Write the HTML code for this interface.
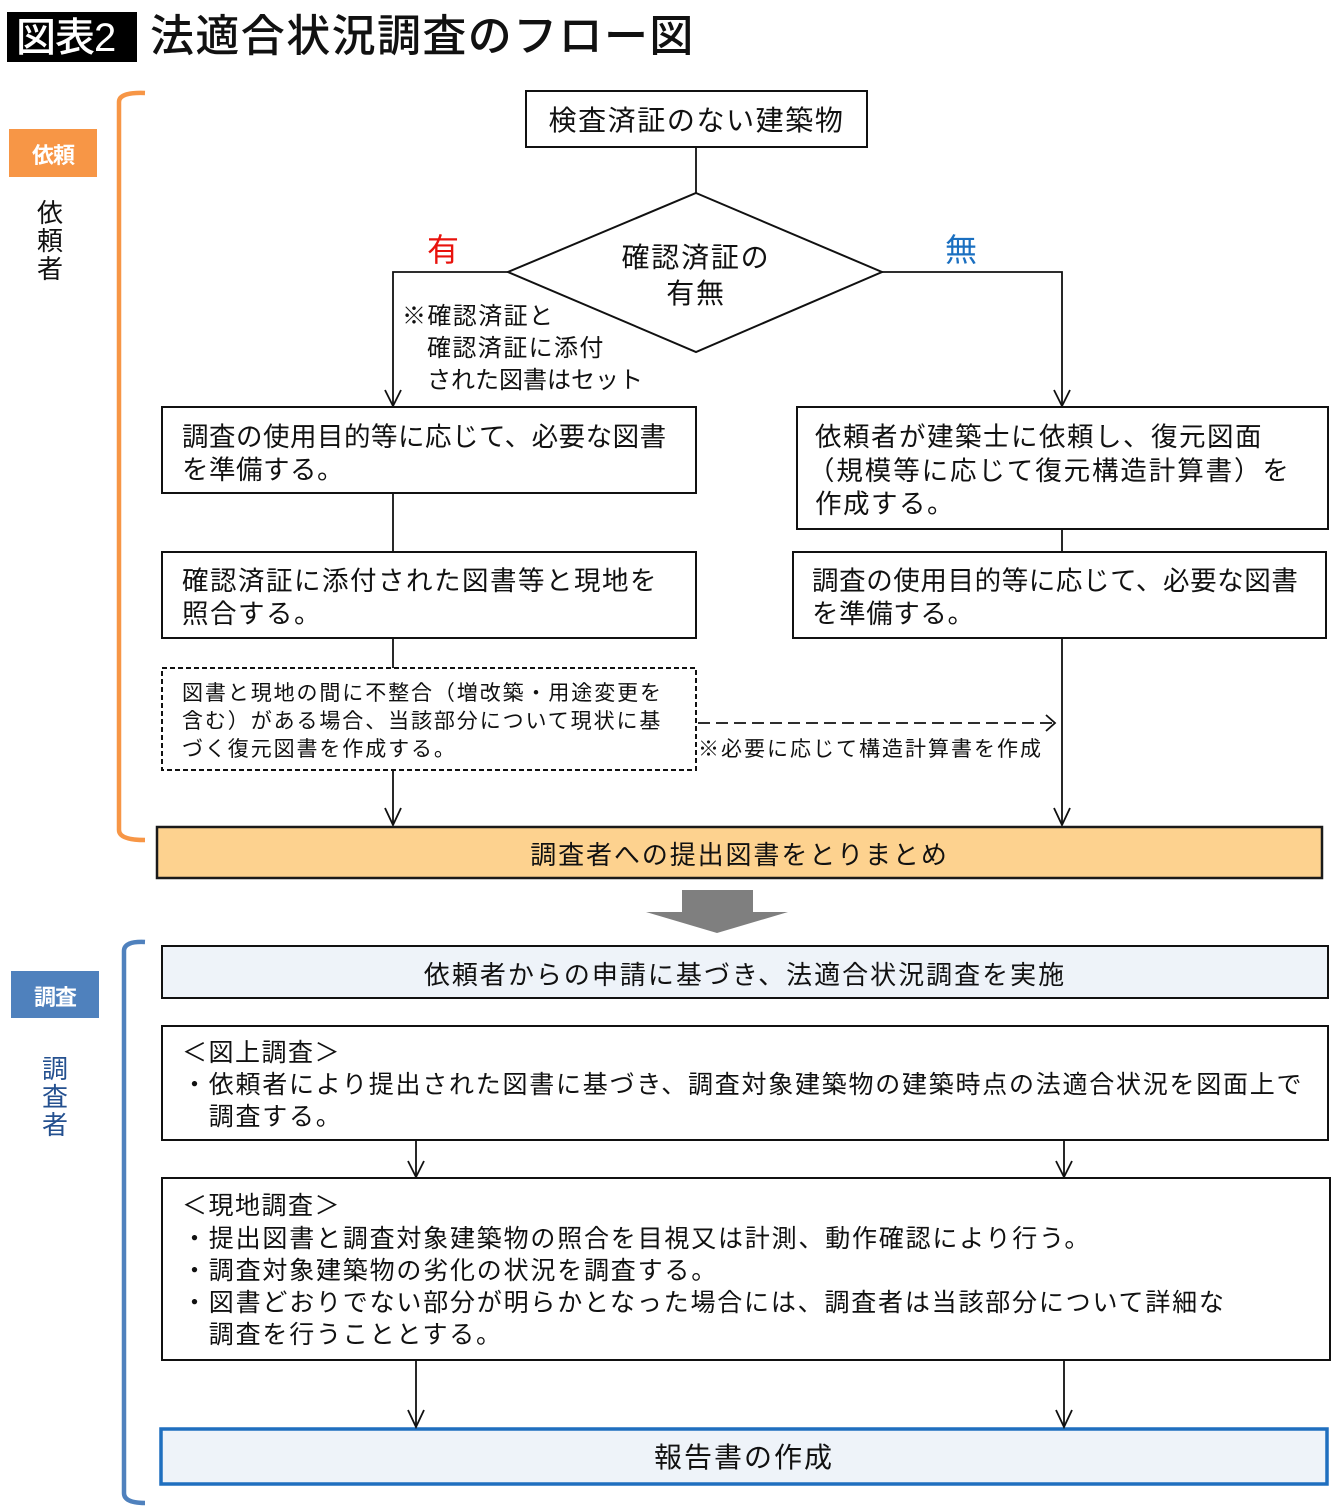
<!DOCTYPE html>
<html><head><meta charset="utf-8">
<style>
html,body{margin:0;padding:0;background:#fff;}
body{width:1340px;height:1508px;position:relative;overflow:hidden;font-family:"Liberation Sans","Noto Sans CJK JP",sans-serif;color:#111;}
.t{position:absolute;white-space:nowrap;line-height:1;margin-top:3px;}
svg{position:absolute;left:0;top:0;}
</style></head><body>
<svg width="1340" height="1508" viewBox="0 0 1340 1508">
  <!-- title box -->
  <rect x="7" y="12" width="130" height="50" fill="#000"/>
  <!-- left labels -->
  <rect x="9" y="129" width="88" height="48" fill="#f79646"/>
  <rect x="11" y="971" width="88" height="47" fill="#4f81bd"/>
  <!-- brackets -->
  <path d="M145,93 Q119,92 119,102 L119,830 Q119,840 145,840" fill="none" stroke="#f79646" stroke-width="4.5"/>
  <path d="M145,942 Q124,941 124,951 L124,1493 Q124,1503 145,1503" fill="none" stroke="#4f81bd" stroke-width="4.5"/>
  <g fill="#fff" stroke="#111" stroke-width="2">
    <rect x="526" y="91" width="341" height="56"/>
    <polygon points="696,193 882,272 696,352 508,272"/>
    <rect x="162" y="407" width="534" height="86"/>
    <rect x="162" y="552" width="534" height="86"/>
    <rect x="797" y="407" width="531" height="122"/>
    <rect x="793" y="552" width="533" height="86"/>
  </g>
  <rect x="162" y="668" width="534" height="102" fill="#fff" stroke="#111" stroke-width="2" stroke-dasharray="5,3"/>
  <g fill="none" stroke="#111" stroke-width="1.8">
    <line x1="696" y1="147" x2="696" y2="193"/>
    <polyline points="508,272 393,272 393,406"/>
    <polyline points="385,390 393,406 401,390"/>
    <polyline points="882,272 1062,272 1062,406"/>
    <polyline points="1054,390 1062,406 1070,390"/>
    <line x1="393" y1="493" x2="393" y2="552"/>
    <line x1="1062" y1="529" x2="1062" y2="552"/>
    <line x1="393" y1="638" x2="393" y2="668"/>
    <line x1="393" y1="770" x2="393" y2="825"/>
    <polyline points="385,808 393,825 401,808"/>
    <line x1="1062" y1="638" x2="1062" y2="825"/>
    <polyline points="1054,808 1062,825 1070,808"/>
    <line x1="698" y1="723" x2="1054" y2="723" stroke-dasharray="12,6"/>
    <polyline points="1046,715 1055,723 1046,731"/>
  </g>
  <!-- orange bar -->
  <rect x="157" y="827" width="1165" height="51" fill="#fdd28f" stroke="#1a1a1a" stroke-width="2.5"/>
  <!-- gray arrow -->
  <polygon points="682,890 753,890 753,912 788,912 717,933 646,912 682,912" fill="#7f7f7f"/>
  <!-- lower section -->
  <rect x="162" y="946" width="1166" height="52" fill="#eef3f9" stroke="#111" stroke-width="2"/>
  <rect x="162" y="1026" width="1166" height="114" fill="#fff" stroke="#111" stroke-width="2"/>
  <rect x="162" y="1178" width="1168" height="182" fill="#fff" stroke="#111" stroke-width="2"/>
  <rect x="161" y="1429" width="1166" height="55" fill="#eef3f9" stroke="#1f6fbf" stroke-width="3.5"/>
  <g fill="none" stroke="#111" stroke-width="1.8">
    <line x1="416" y1="1140" x2="416" y2="1177"/>
    <polyline points="408,1161 416,1177 424,1161"/>
    <line x1="1064" y1="1140" x2="1064" y2="1177"/>
    <polyline points="1056,1161 1064,1177 1072,1161"/>
    <line x1="416" y1="1360" x2="416" y2="1427"/>
    <polyline points="408,1410 416,1427 424,1410"/>
    <line x1="1064" y1="1360" x2="1064" y2="1427"/>
    <polyline points="1056,1410 1064,1427 1072,1410"/>
  </g>
</svg>

<!-- title -->
<div class="t" style="left:16px;top:15px;font-size:40px;color:#fff;letter-spacing:-1px;font-weight:500;">図表2</div>
<div class="t" style="left:150px;top:12px;font-size:44px;letter-spacing:1.4px;color:#111;font-weight:500;">法適合状況調査のフロー図</div>

<!-- left labels -->
<div class="t" style="left:9px;top:142px;width:88px;text-align:center;font-size:22px;font-weight:bold;color:#fff;letter-spacing:-1px;">依頼</div>
<div class="t" style="left:37px;top:196px;font-size:26px;line-height:28px;white-space:normal;width:28px;">依<br>頼<br>者</div>
<div class="t" style="left:11px;top:984px;width:88px;text-align:center;font-size:22px;font-weight:bold;color:#fff;letter-spacing:-1px;">調査</div>
<div class="t" style="left:42px;top:1052px;font-size:26px;line-height:28px;white-space:normal;width:28px;color:#24508f;">調<br>査<br>者</div>

<!-- top flow -->
<div class="t" style="left:526px;top:104px;width:341px;text-align:center;font-size:28px;letter-spacing:1.6px;">検査済証のない建築物</div>
<div class="t" style="left:508px;top:241px;width:376px;text-align:center;font-size:28px;letter-spacing:1.8px;">確認済証の</div>
<div class="t" style="left:508px;top:277px;width:376px;text-align:center;font-size:28px;letter-spacing:1.8px;">有無</div>
<div class="t" style="left:427px;top:231px;font-size:32px;color:#e8120c;">有</div>
<div class="t" style="left:945px;top:231px;font-size:32px;color:#1a6fc0;">無</div>
<div class="t" style="left:402px;top:302px;font-size:24px;letter-spacing:1.4px;">※確認済証と</div>
<div class="t" style="left:427px;top:334px;font-size:24px;letter-spacing:1.4px;">確認済証に添付</div>
<div class="t" style="left:427px;top:366px;font-size:24px;letter-spacing:0px;">された図書はセット</div>

<div class="t" style="left:182px;top:421px;font-size:26.5px;letter-spacing:0.5px;">調査の使用目的等に応じて、必要な図書</div>
<div class="t" style="left:182px;top:454px;font-size:26.5px;letter-spacing:0.5px;">を準備する。</div>
<div class="t" style="left:182px;top:565px;font-size:26.5px;letter-spacing:1.5px;">確認済証に添付された図書等と現地を</div>
<div class="t" style="left:182px;top:598px;font-size:26.5px;letter-spacing:1.5px;">照合する。</div>

<div class="t" style="left:182px;top:680px;font-size:21px;letter-spacing:1.9px;">図書と現地の間に不整合（増改築・用途変更を</div>
<div class="t" style="left:182px;top:708px;font-size:21px;letter-spacing:1.9px;">含む）がある場合、当該部分について現状に基</div>
<div class="t" style="left:182px;top:736px;font-size:21px;letter-spacing:1.9px;">づく復元図書を作成する。</div>
<div class="t" style="left:698px;top:736px;font-size:21px;letter-spacing:2px;">※必要に応じて構造計算書を作成</div>

<div class="t" style="left:815px;top:421px;font-size:26.5px;letter-spacing:1.5px;">依頼者が建築士に依頼し、復元図面</div>
<div class="t" style="left:808px;top:455px;font-size:26.5px;letter-spacing:1.9px;">（規模等に応じて復元構造計算書）を</div>
<div class="t" style="left:815px;top:488px;font-size:26.5px;letter-spacing:1.5px;">作成する。</div>
<div class="t" style="left:812px;top:565px;font-size:26.5px;letter-spacing:0.6px;">調査の使用目的等に応じて、必要な図書</div>
<div class="t" style="left:812px;top:598px;font-size:26.5px;letter-spacing:0.6px;">を準備する。</div>

<div class="t" style="left:157px;top:839px;width:1165px;text-align:center;font-size:26px;letter-spacing:1.9px;">調査者への提出図書をとりまとめ</div>

<!-- lower flow -->
<div class="t" style="left:162px;top:959px;width:1166px;text-align:center;font-size:26px;letter-spacing:2px;">依頼者からの申請に基づき、法適合状況調査を実施</div>

<div class="t" style="left:182px;top:1038px;font-size:25px;letter-spacing:1.5px;">＜図上調査＞</div>
<div class="t" style="left:182px;top:1070px;font-size:25px;letter-spacing:1.75px;">・依頼者により提出された図書に基づき、調査対象建築物の建築時点の法適合状況を図面上で</div>
<div class="t" style="left:182px;top:1102px;font-size:25px;letter-spacing:1.75px;">　調査する。</div>

<div class="t" style="left:182px;top:1191px;font-size:25px;letter-spacing:1.5px;">＜現地調査＞</div>
<div class="t" style="left:182px;top:1224px;font-size:25px;letter-spacing:1.8px;">・提出図書と調査対象建築物の照合を目視又は計測、動作確認により行う。</div>
<div class="t" style="left:182px;top:1256px;font-size:25px;letter-spacing:1.8px;">・調査対象建築物の劣化の状況を調査する。</div>
<div class="t" style="left:182px;top:1288px;font-size:25px;letter-spacing:1.8px;">・図書どおりでない部分が明らかとなった場合には、調査者は当該部分について詳細な</div>
<div class="t" style="left:182px;top:1320px;font-size:25px;letter-spacing:1.8px;">　調査を行うこととする。</div>

<div class="t" style="left:161px;top:1441px;width:1166px;text-align:center;font-size:28px;letter-spacing:2px;">報告書の作成</div>
</body></html>
